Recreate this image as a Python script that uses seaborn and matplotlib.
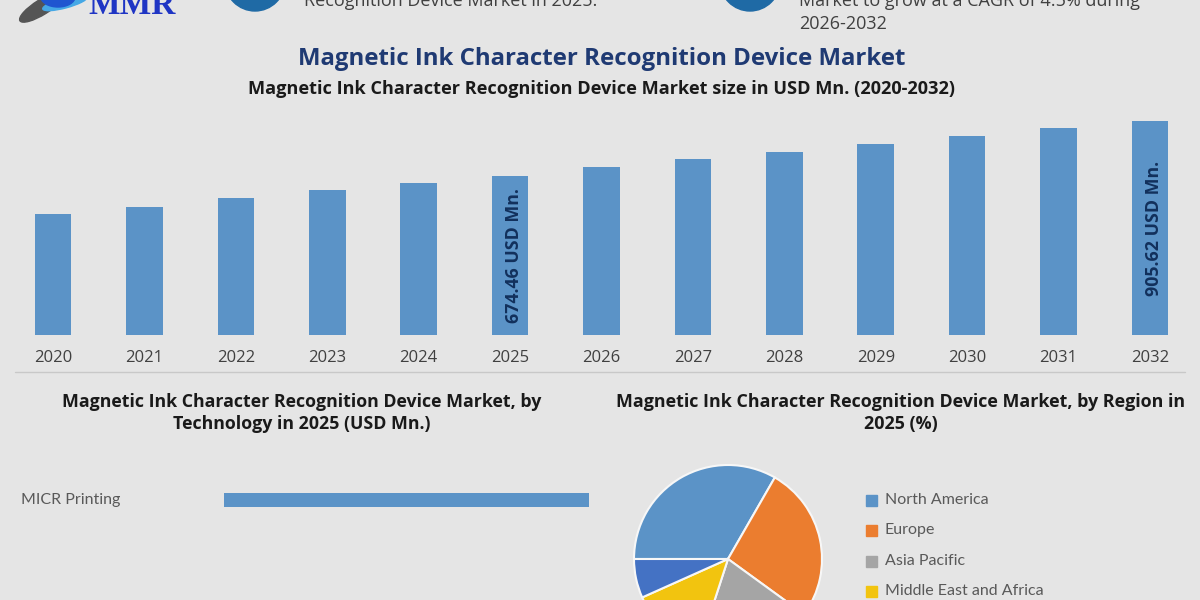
import matplotlib
matplotlib.use('Agg')
import matplotlib.pyplot as plt
from matplotlib.patches import Circle, Ellipse
import pandas as pd
import seaborn as sns

# data
years = ['2020', '2021', '2022', '2023', '2024', '2025', '2026',
         '2027', '2028', '2029', '2030', '2031', '2032']
market_size = [511, 541, 579, 613, 642, 674.46, 710, 744, 773, 807, 841, 875, 905.62]
labelled_years = ['2025', '2032']
tech_names = ['MICR Printing']
tech_values = [674.46]
regions = ['North America', 'Europe', 'Asia Pacific', 'Middle East and Africa', 'South America']
region_share = [33.3, 26.7, 20.0, 13.3, 6.7]

BG = '#e5e5e5'
BLUE = '#5b93c7'
pie_colors = ['#5b93c7', '#eb7d2f', '#a5a5a5', '#f2c40f', '#4472c4']
W, H = 1200, 600

sns.set_theme(style='white')
plt.rcParams['font.family'] = ['Open Sans', 'DejaVu Sans']

fig = plt.figure(figsize=(12, 6), dpi=100, facecolor=BG)


def px_axes(left, top, right, bottom):
    # axes placed by picture pixels, y counted from the top
    ax = fig.add_axes([left / W, 1 - bottom / H, (right - left) / W, (bottom - top) / H])
    ax.set_facecolor('none')
    return ax


def px_text(x, y, s, **kw):
    kw.setdefault('ha', 'center')
    kw.setdefault('va', 'center')
    fig.text(x / W, 1 - y / H, s, **kw)


#%% main bars
ax = px_axes(7.3, 112, 1195.7, 335)
df = pd.DataFrame({'year': years, 'size': market_size})
sns.barplot(data=df, x='year', y='size', color=BLUE, saturation=1, width=0.4, linewidth=0, ax=ax)
ax.set_ylim(0, 223 * 905.62 / 214)
ax.set_xlabel('')
ax.set_ylabel('')
ax.set_yticks([])
ax.tick_params(axis='x', length=0, labelsize=12, labelcolor='#404040', pad=10.5)
sns.despine(ax=ax, left=True, bottom=True)
for yr in labelled_years:
    i = years.index(yr)
    ax.annotate(f'{market_size[i]} USD Mn.', (i, market_size[i] / 2), xytext=(3, 0),
                textcoords='offset points', rotation=90, ha='center', va='center',
                fontsize=12.8, fontweight='bold', color='#12305c')

# separator under the years
fig.add_artist(plt.Line2D([15 / W, 1185 / W], [1 - 372 / H, 1 - 372 / H], color='#c8c8c8', lw=1))

#%% technology bar
ax2 = px_axes(224, 470, 589, 530)
tech = pd.DataFrame({'name': tech_names, 'value': tech_values})
sns.barplot(data=tech, y='name', x='value', color=BLUE, saturation=1, width=14 / 60, linewidth=0, ax=ax2)
ax2.set_xlim(0, tech_values[0])
ax2.set_xlabel('')
ax2.set_ylabel('')
ax2.set_xticks([])
ax2.set_yticks([])
sns.despine(ax=ax2, left=True, bottom=True)
px_text(21, 500, tech_names[0], ha='left', fontsize=11.5, color='#595959', family='Lato')

#%% region pie, runs off the bottom of the picture
ax3 = px_axes(634, 465, 822, 653)
ax3.pie(region_share, colors=pie_colors, startangle=180, counterclock=False, radius=1,
        wedgeprops={'edgecolor': '#f7f7f7', 'linewidth': 1.5})
ax3.set_xlim(-1, 1)
ax3.set_ylim(-1, 1)

# legend drawn by hand so it can run off the edge like the original
ly = [500, 530, 561, 591]
for name, col, y in zip(regions, pie_colors, ly):
    fig.patches.append(plt.Rectangle((866 / W, 1 - (y + 5.5) / H), 11 / W, 11 / H,
                                     transform=fig.transFigure, color=col))
    px_text(885, y, name, ha='left', fontsize=11.5, color='#595959', family='Lato')

#%% titles
px_text(602, 59, 'Magnetic Ink Character Recognition Device Market', fontsize=17.3,
        fontweight='bold', color='#1f3a73')
px_text(602, 89.5, 'Magnetic Ink Character Recognition Device Market size in USD Mn. (2020-2032)',
        fontsize=13.1, fontweight='bold', color='#1a1a1a')
px_text(302, 413, 'Magnetic Ink Character Recognition Device Market, by\nTechnology in 2025 (USD Mn.)',
        fontsize=12.8, fontweight='bold', color='#1a1a1a', linespacing=1.3)
px_text(901, 413, 'Magnetic Ink Character Recognition Device Market, by Region in\n2025 (%)',
        fontsize=12.9, fontweight='bold', color='#1a1a1a', linespacing=1.3)

#%% cropped header strip
px_text(304, 1, 'Recognition Device Market in 2025.', ha='left', fontsize=13, color='#404040')
px_text(799, 1, 'Market to grow at a CAGR of 4.5% during', ha='left', fontsize=13, color='#404040')
px_text(799, 24, '2026-2032', ha='left', fontsize=13, color='#404040')
px_text(132, 14, 'MMR', va='baseline', fontsize=24, fontweight='bold', color='#1f35c4',
        family='Liberation Serif')

deco = fig.add_axes([0, 0, 1, 1], zorder=-1)
deco.set_xlim(0, W)
deco.set_ylim(H, 0)
deco.axis('off')
deco.add_patch(Circle((255, -19), 30, color='#1f6aa5'))
deco.add_patch(Circle((750, -19), 30, color='#1f6aa5'))
deco.add_patch(Ellipse((42, 7), 52, 15, angle=-32, color='#555555'))
deco.add_patch(Ellipse((65, 3), 46, 10, angle=-15, color='#45a8e6'))
deco.add_patch(Ellipse((58, -3), 34, 20, color='#1f55d0'))

fig.savefig('out.png', dpi=100, facecolor=BG)
